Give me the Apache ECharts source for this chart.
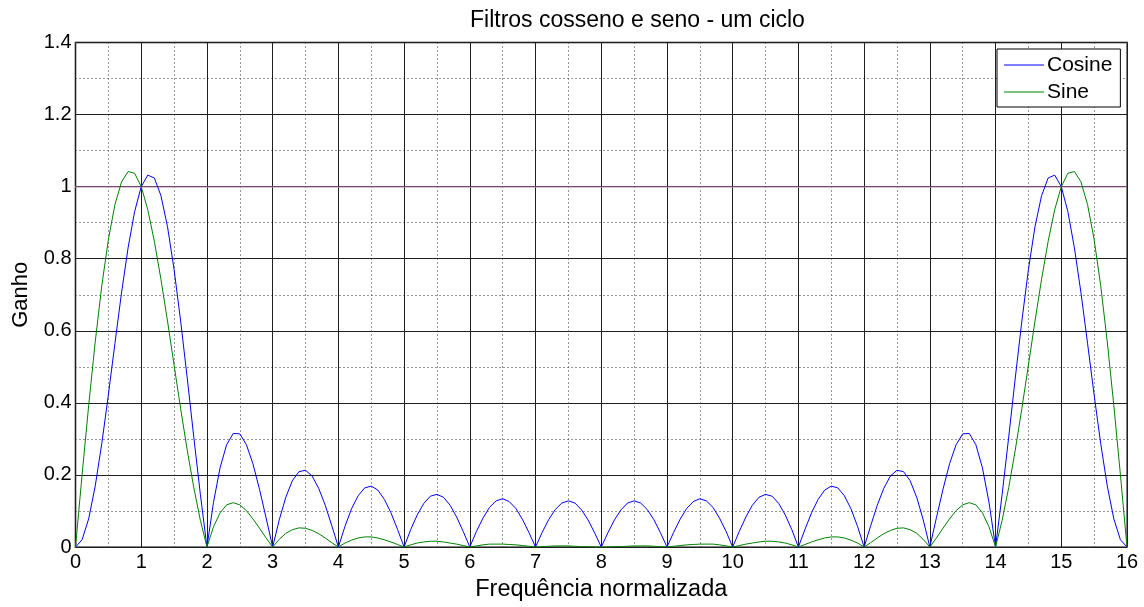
<!DOCTYPE html>
<html>
<head>
<meta charset="utf-8">
<script src="https://cdn.jsdelivr.net/npm/echarts@6/dist/echarts.min.js"></script>
<style>
html,body{margin:0;padding:0;background:#fff;}
#chart{width:1144px;height:607px;}
</style>
</head>
<body>
<div id="chart"></div>
<script>
// Normalized frequency (x) samples
const freq = [
  0.0,0.1,0.2,0.3,0.4,0.5,0.6,0.7,0.8,0.9,
  1.0,1.1,1.2,1.3,1.4,1.5,1.6,1.7,1.8,1.9,
  2.0,2.1,2.2,2.3,2.4,2.5,2.6,2.7,2.8,2.9,
  3.0,3.1,3.2,3.3,3.4,3.5,3.6,3.7,3.8,3.9,
  4.0,4.1,4.2,4.3,4.4,4.5,4.6,4.7,4.8,4.9,
  5.0,5.1,5.2,5.3,5.4,5.5,5.6,5.7,5.8,5.9,
  6.0,6.1,6.2,6.3,6.4,6.5,6.6,6.7,6.8,6.9,
  7.0,7.1,7.2,7.3,7.4,7.5,7.6,7.7,7.8,7.9,
  8.0,8.1,8.2,8.3,8.4,8.5,8.6,8.7,8.8,8.9,
  9.0,9.1,9.2,9.3,9.4,9.5,9.6,9.7,9.8,9.9,
  10.0,10.1,10.2,10.3,10.4,10.5,10.6,10.7,10.8,10.9,
  11.0,11.1,11.2,11.3,11.4,11.5,11.6,11.7,11.8,11.9,
  12.0,12.1,12.2,12.3,12.4,12.5,12.6,12.7,12.8,12.9,
  13.0,13.1,13.2,13.3,13.4,13.5,13.6,13.7,13.8,13.9,
  14.0,14.1,14.2,14.3,14.4,14.5,14.6,14.7,14.8,14.9,
  15.0,15.1,15.2,15.3,15.4,15.5,15.6,15.7,15.8,15.9,
  16.0
];

// Cosine filter gain
const cosineGain = [
  0,0.020,0.078,0.169,0.287,0.422,0.565,0.705,0.830,0.931,
  1.000,1.032,1.024,0.975,0.889,0.770,0.627,0.469,0.305,0.146,
  0,0.124,0.220,0.284,0.315,0.314,0.284,0.231,0.160,0.081,
  0,0.075,0.138,0.184,0.209,0.213,0.197,0.163,0.116,0.059,
  0,0.057,0.106,0.142,0.164,0.169,0.158,0.132,0.095,0.049,
  0,0.048,0.089,0.121,0.141,0.146,0.138,0.116,0.083,0.043,
  0,0.043,0.080,0.110,0.128,0.134,0.126,0.107,0.077,0.040,
  0,0.040,0.076,0.104,0.122,0.128,0.122,0.103,0.075,0.039,
  0,0.039,0.075,0.103,0.122,0.128,0.122,0.104,0.076,0.040,
  0,0.040,0.077,0.107,0.126,0.134,0.128,0.110,0.080,0.043,
  0,0.043,0.083,0.116,0.138,0.146,0.141,0.121,0.089,0.048,
  0,0.049,0.095,0.132,0.158,0.169,0.164,0.142,0.106,0.057,
  0,0.059,0.116,0.163,0.197,0.213,0.209,0.184,0.138,0.075,
  0,0.081,0.160,0.231,0.284,0.314,0.315,0.284,0.220,0.124,
  0,0.146,0.305,0.469,0.627,0.770,0.889,0.975,1.024,1.032,
  1.000,0.931,0.830,0.705,0.565,0.422,0.287,0.169,0.078,0.020,
  0
];

// Sine filter gain
const sineGain = [
  0,0.200,0.392,0.569,0.725,0.853,0.950,1.013,1.042,1.037,
  1.000,0.936,0.848,0.743,0.627,0.505,0.384,0.269,0.165,0.074,
  0,0.056,0.095,0.117,0.123,0.117,0.101,0.078,0.052,0.025,
  0,0.021,0.038,0.048,0.053,0.052,0.046,0.037,0.025,0.012,
  0,0.011,0.019,0.025,0.028,0.028,0.025,0.020,0.014,0.007,
  0,0.006,0.011,0.014,0.016,0.016,0.014,0.011,0.008,0.004,
  0,0.003,0.006,0.008,0.008,0.008,0.007,0.006,0.004,0.002,
  0,0.001,0.002,0.003,0.003,0.003,0.002,0.001,0.001,0.000,
  0,0.000,0.001,0.001,0.002,0.003,0.003,0.003,0.002,0.001,
  0,0.002,0.004,0.006,0.007,0.008,0.008,0.008,0.006,0.003,
  0,0.004,0.008,0.011,0.014,0.016,0.016,0.014,0.011,0.006,
  0,0.007,0.014,0.020,0.025,0.028,0.028,0.025,0.019,0.011,
  0,0.012,0.025,0.037,0.046,0.052,0.053,0.048,0.038,0.021,
  0,0.025,0.052,0.078,0.101,0.117,0.123,0.117,0.095,0.056,
  0,0.074,0.165,0.269,0.384,0.505,0.627,0.743,0.848,0.936,
  1.000,1.037,1.042,1.013,0.950,0.853,0.725,0.569,0.392,0.200,
  0
];

const referenceLevel = 1;
const seriesNames = ['Cosine', 'Sine'];

const FONT = '"Liberation Sans", Arial, sans-serif';
const chart = echarts.init(document.getElementById('chart'), null, {renderer: 'canvas'});

const axisCommon = {
  axisLine: {show: false},
  axisTick: {show: false},
  splitLine: {show: true, lineStyle: {color: '#1f1f1f', width: 1}},
  minorTick: {show: false, splitNumber: 2},
  minorSplitLine: {show: true, lineStyle: {color: '#333', width: 1, type: [1, 3]}}
};

chart.setOption({
  animation: false,
  backgroundColor: '#fff',
  title: {
    text: 'Filtros cosseno e seno - um ciclo',
    left: 465, top: 4,
    textStyle: {fontFamily: FONT, fontSize: 23, fontWeight: 'normal', color: '#000'}
  },
  legend: {
    orient: 'vertical',
    left: 997, top: 49,
    padding: [5, 8, 4, 7],
    icon: 'rect',
    itemWidth: 40, itemHeight: 1, itemGap: 5,
    backgroundColor: '#fff',
    borderColor: '#000', borderWidth: 1,
    textStyle: {fontFamily: FONT, fontSize: 21, color: '#000', lineHeight: 22, padding: [0, 0, 0, -2]},
    data: seriesNames
  },
  grid: {
    left: 75.5, right: 17, top: 42.5, bottom: 56,
    show: true, borderColor: '#808080', borderWidth: 2, backgroundColor: '#fff'
  },
  xAxis: Object.assign({}, axisCommon, {
    type: 'value', min: 0, max: 16, interval: 1,
    name: 'Frequência normalizada', nameLocation: 'middle', nameGap: 31,
    nameTextStyle: {fontFamily: FONT, fontSize: 23.5, color: '#000'},
    axisLabel: {fontFamily: FONT, fontSize: 20, color: '#000', margin: 5}
  }),
  yAxis: Object.assign({}, axisCommon, {
    type: 'value', min: 0, max: 1.4, interval: 0.2,
    name: 'Ganho', nameLocation: 'middle', nameGap: 44,
    nameTextStyle: {fontFamily: FONT, fontSize: 22, color: '#000'},
    axisLabel: {fontFamily: FONT, fontSize: 20, color: '#000', margin: 4}
  }),
  series: [
    {
      name: seriesNames[0], type: 'line', symbol: 'none', showSymbol: false,
      data: freq.map((f, i) => [f, cosineGain[i]]),
      lineStyle: {color: '#0000ff', width: 1}, itemStyle: {color: '#0000ff'},
      z: 3,
      markLine: {
        silent: true, symbol: 'none', label: {show: false}, z: 2,
        lineStyle: {color: '#c77fb0', width: 2, type: [1, 1], opacity: 1},
        data: [{yAxis: referenceLevel}]
      }
    },
    {
      name: seriesNames[1], type: 'line', symbol: 'none', showSymbol: false,
      data: freq.map((f, i) => [f, sineGain[i]]),
      lineStyle: {color: '#008000', width: 1}, itemStyle: {color: '#008000'},
      z: 3
    }
  ]
});
</script>
</body>
</html>
